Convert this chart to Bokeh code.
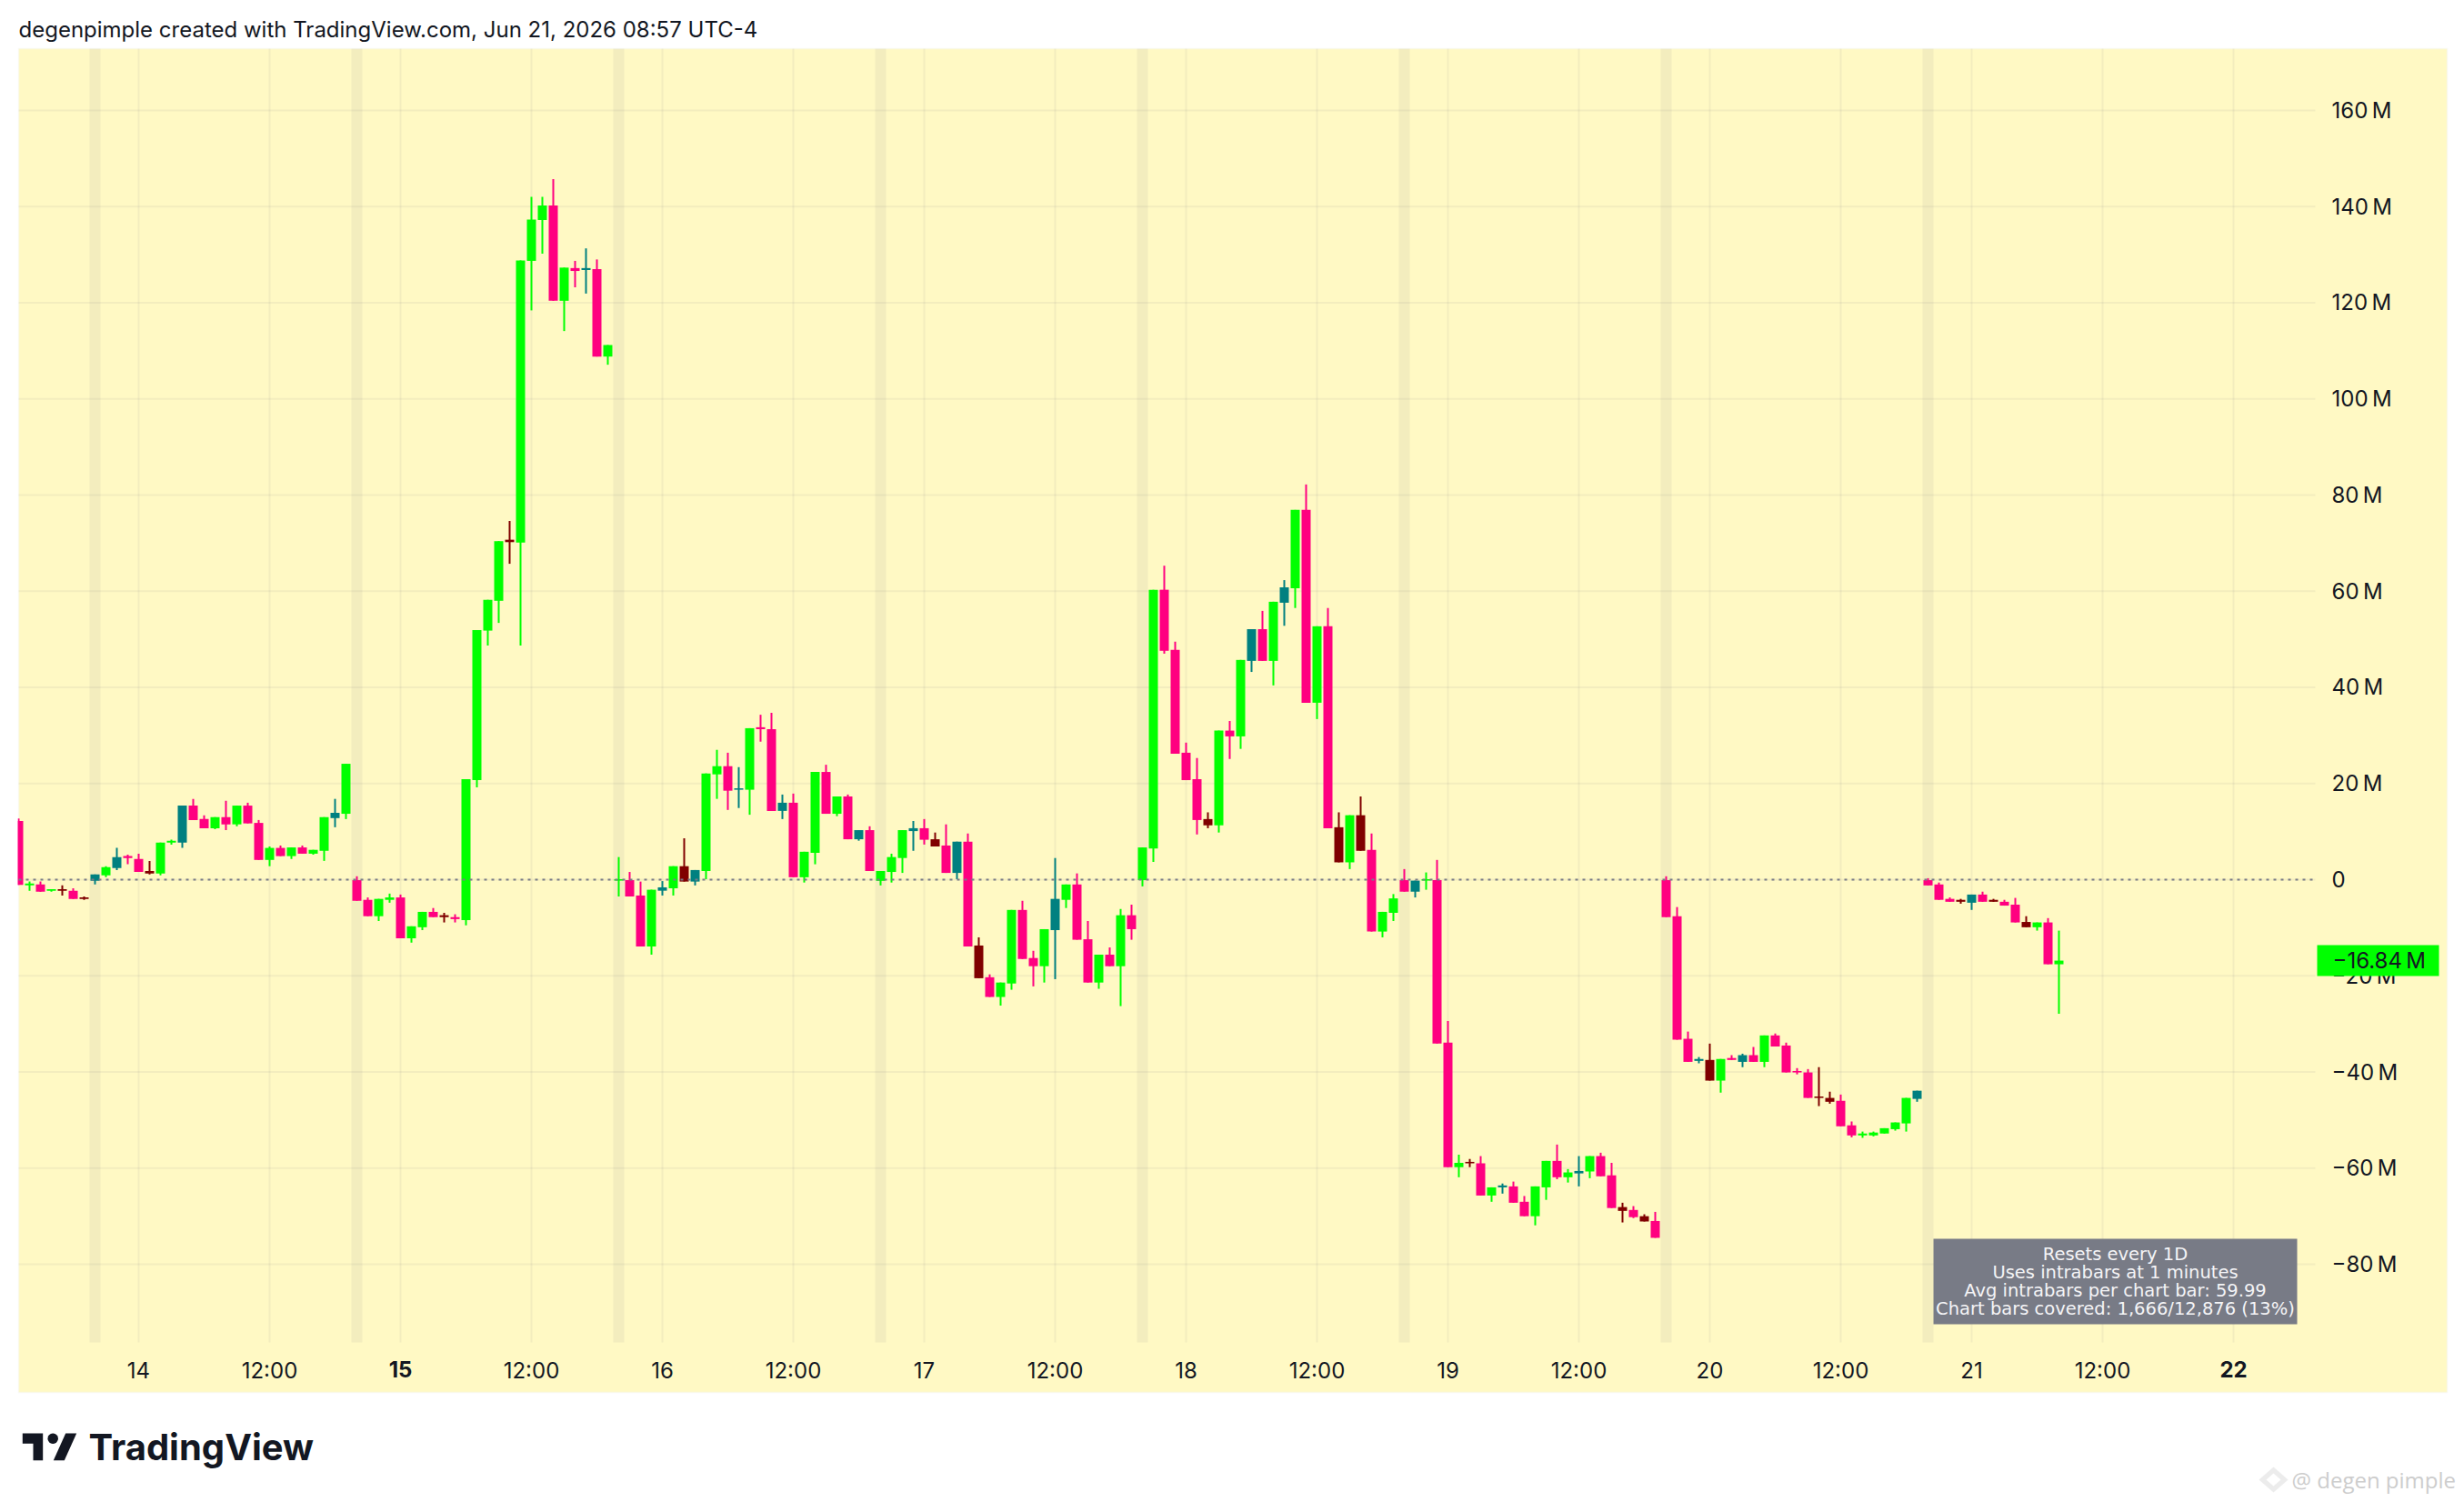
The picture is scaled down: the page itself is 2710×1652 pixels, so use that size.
from bokeh.plotting import figure
from bokeh.embed import file_html
from bokeh.resources import INLINE
from bokeh.models import (LinearAxis, FixedTicker, Range1d, Label, BoxAnnotation,
                          PolyAnnotation)
import math

FIRST_HOUR = -11
body_top = [
 12.2,-0.8,-1.0,-2.0,-2.0,-2.3,-3.7,1.1,2.6,4.7,4.9,4.3,
 1.8,7.7,8.1,15.4,15.4,12.6,13.0,13.0,15.4,15.4,11.8,6.6,
 6.6,6.7,6.7,6.2,13.0,13.9,24.1,-0.1,-4.2,-4.0,-3.7,-3.7,
 -9.7,-6.7,-6.7,-7.4,-7.8,20.9,51.9,58.2,70.4,70.7,128.8,137.3,
 140.2,140.2,127.3,127.2,127.2,127.0,111.2,0.1,-0.1,-3.3,-2.1,-1.6,
 2.8,2.8,2.0,22.1,23.6,23.6,19.0,31.5,31.7,31.3,16.0,16.0,
 5.8,22.4,22.4,17.3,17.3,10.3,10.3,1.8,4.7,10.3,10.7,10.7,
 8.4,7.1,7.9,7.9,-13.7,-20.3,-21.4,-6.3,-6.3,-16.3,-10.3,-4.0,
 -1.0,-1.0,-12.4,-15.6,-15.6,-7.4,-7.4,6.7,60.3,60.3,47.8,26.4,
 20.9,12.6,31.0,31.0,45.7,52.1,52.1,57.8,60.8,76.9,76.9,52.7,
 52.7,10.9,13.4,13.4,6.2,-6.7,-3.9,-0.1,-0.2,0.1,-0.1,-33.9,
 -58.9,-58.7,-59.0,-64.0,-63.6,-63.8,-67.0,-63.8,-58.5,-58.5,-60.9,-60.6,
 -57.5,-57.5,-61.5,-68.1,-68.7,-70.0,-71.0,-0.1,-7.6,-33.1,-37.3,-37.5,
 -37.3,-37.1,-36.5,-36.5,-32.4,-32.4,-34.5,-39.8,-40.1,-45.1,-45.4,-46.0,
 -51.1,-52.8,-52.6,-51.7,-50.5,-45.4,-43.9,-0.1,-1.0,-4.0,-4.2,-3.1,
 -3.1,-4.2,-4.6,-5.2,-8.8,-8.9,-8.9,-16.84]
body_bottom = [
 -1.1,-1.2,-2.5,-2.3,-2.3,-4.0,-4.0,-0.25,0.9,2.4,4.5,1.6,
 1.3,1.3,7.7,7.7,12.4,10.7,10.7,11.5,11.5,11.7,4.1,4.1,
 4.9,4.9,5.4,5.4,6.0,12.8,13.7,-4.4,-7.6,-7.6,-4.2,-12.2,
 -12.2,-9.9,-7.8,-7.8,-8.2,-8.4,20.7,51.8,58.0,70.2,70.1,128.7,
 137.2,120.4,120.4,126.6,126.8,108.8,108.8,-0.2,-3.5,-13.9,-13.9,-2.3,
 -1.8,-0.4,-0.4,1.8,21.9,18.5,18.7,18.7,31.3,14.3,14.3,0.5,
 0.5,5.6,13.7,13.7,8.4,8.4,1.8,-0.25,1.6,4.5,10.1,8.3,
 6.9,1.4,1.4,-13.9,-20.5,-24.4,-24.4,-21.6,-16.5,-18.0,-18.0,-10.5,
 -4.2,-12.5,-21.4,-21.4,-18.0,-18.0,-10.3,-0.1,6.5,47.6,26.2,20.7,
 12.4,11.3,11.3,29.8,29.8,45.5,45.5,45.5,57.6,60.6,36.8,36.8,
 10.7,3.6,3.6,6.0,-10.8,-10.8,-6.9,-2.5,-2.5,-0.2,-34.1,-59.8,
 -59.8,-59.0,-65.7,-65.7,-64.0,-67.2,-70.0,-70.0,-64.0,-61.9,-61.9,-61.1,
 -60.7,-61.7,-68.3,-68.9,-70.2,-71.1,-74.5,-7.8,-33.3,-37.9,-37.7,-41.8,
 -41.8,-37.5,-37.9,-37.9,-37.9,-34.7,-40.1,-40.1,-45.4,-45.4,-46.2,-51.3,
 -53.2,-53.2,-53.2,-52.8,-51.9,-50.7,-45.6,-1.2,-4.2,-4.6,-4.6,-4.8,
 -4.6,-4.6,-5.4,-8.9,-9.9,-9.9,-17.6,-17.6]
wick_high = [
 12.7,-0.4,-0.4,-2.0,-1.2,-1.8,-3.5,1.1,2.8,6.6,5.2,5.4,
 3.9,7.7,8.3,15.4,16.8,13.4,13.0,16.4,15.4,16.0,12.4,6.9,
 7.1,6.7,7.1,6.2,13.0,16.8,24.1,0.7,-3.7,-4.0,-2.9,-3.1,
 -9.7,-6.7,-5.9,-6.9,-7.2,20.9,51.9,58.2,70.4,74.6,128.8,142.0,
 142.0,145.7,127.3,128.7,131.3,129.0,111.2,4.7,1.6,-0.4,-2.1,-0.3,
 2.8,8.6,2.0,22.1,27.0,26.4,23.4,31.5,34.3,34.7,17.7,17.9,
 5.8,22.4,23.9,17.3,17.7,10.3,11.1,1.8,5.4,10.3,12.2,12.6,
 9.8,11.5,7.9,9.6,-12.0,-19.7,-21.4,-6.3,-4.4,-14.8,-10.3,4.5,
 -1.0,1.3,-8.6,-15.6,-14.1,-6.1,-5.2,6.7,60.3,65.3,49.5,28.5,
 25.3,14.0,31.0,33.0,45.7,52.1,55.9,57.8,62.3,76.9,82.2,52.7,
 56.5,14.0,13.4,17.3,9.6,-6.7,-3.0,2.2,-0.2,1.5,4.1,-29.4,
 -57.2,-58.1,-57.5,-64.0,-63.2,-62.8,-65.8,-63.8,-58.5,-55.1,-60.2,-57.5,
 -57.5,-56.8,-58.9,-67.2,-67.9,-69.6,-69.1,0.7,-5.7,-31.6,-36.9,-34.1,
 -37.3,-36.5,-36.2,-34.8,-32.4,-32.0,-33.9,-39.2,-39.4,-39.0,-44.1,-44.7,
 -50.3,-52.4,-52.4,-51.7,-50.5,-45.4,-43.9,0.3,-0.6,-3.7,-4.0,-3.1,
 -2.5,-4.0,-4.2,-3.8,-7.6,-8.9,-8.0,-10.6]
wick_low = [
 -1.1,-2.3,-2.5,-2.5,-3.3,-4.0,-4.2,-1.0,0.5,2.0,3.2,1.6,
 1.1,0.9,7.3,6.6,12.4,10.7,10.5,10.3,11.1,11.7,4.1,2.8,
 4.9,4.3,5.4,5.2,3.9,10.9,12.6,-4.4,-7.6,-8.6,-4.8,-12.2,
 -13.1,-10.5,-7.8,-8.9,-8.9,-9.5,19.2,48.7,53.4,65.7,48.7,118.4,
 130.2,120.4,114.1,123.2,121.9,108.8,107.1,-3.5,-3.5,-13.9,-15.6,-3.3,
 -3.3,-0.4,-1.2,0.1,16.8,14.5,14.9,13.5,28.7,14.3,12.6,0.5,
 -0.6,3.2,13.7,13.2,8.4,8.1,1.8,-1.2,-0.6,1.4,6.0,7.3,
 6.9,1.4,0.1,-13.9,-20.5,-24.4,-26.2,-22.9,-16.5,-22.2,-21.4,-20.7,
 -5.9,-12.5,-21.4,-22.7,-18.0,-26.3,-12.5,-1.4,3.7,47.0,26.2,20.7,
 9.4,10.7,9.8,25.1,27.2,43.2,45.5,40.4,52.8,56.5,36.8,33.4,
 10.7,3.6,2.2,6.0,-10.8,-12.0,-8.6,-2.5,-3.7,-2.1,-34.1,-59.8,
 -61.9,-59.8,-65.7,-67.0,-65.3,-67.2,-70.0,-71.9,-66.6,-62.3,-63.0,-63.8,
 -62.1,-61.7,-68.3,-71.3,-70.4,-71.1,-74.5,-7.8,-33.3,-37.9,-38.2,-41.8,
 -44.3,-37.5,-39.0,-37.9,-39.0,-34.7,-40.1,-40.5,-45.4,-47.1,-46.6,-51.3,
 -53.6,-53.7,-53.4,-52.8,-52.2,-52.4,-46.2,-1.2,-4.2,-4.6,-5.0,-6.3,
 -4.6,-4.6,-5.4,-8.9,-9.9,-10.6,-17.6,-27.9]
bar_kind = ("PLPLMPMTLTPP" "MLLTPPLPLPPL" "PLPLLTLPPLLP" "LLPMPLLLLMLL"
            "LPLPTPLLPPLT" "LMTLLPTLPPTP" "LLPLPTPLLLTP" "MPTPMPLLPPLT"
            "LPPLPLPLLPPP" "PMLPLTPLTLPL" "PMLMPLLPTLPP" "LMPLTPPLLPLT"
            "LPPMPMPPPPTM" "LPTPLPPPPMMP" "PLLLLLTPPPMT" "PMPPMLPL")

session_hours = [-4, 20, 44, 68, 92, 116, 140, 164]
x_tick_hours = [0, 12, 36, 48, 60, 72, 84, 96, 108, 120, 132, 144, 156, 168, 180]
x_tick_labels = ["14", "12:00", "12:00", "16", "12:00", "17", "12:00", "18", "12:00",
                 "19", "12:00", "20", "12:00", "21", "12:00"]
bold_tick_hours = [24, 192]
bold_tick_labels = ["15", "22"]
y_ticks = [-80, -60, -40, -20, 0, 20, 40, 60, 80, 100, 120, 140, 160]
y_tick_labels = ["\u221280\u2009M", "\u221260\u2009M", "\u221240\u2009M", "\u221220\u2009M", "0",
                 "20\u2009M", "40\u2009M", "60\u2009M", "80\u2009M", "100\u2009M", "120\u2009M",
                 "140\u2009M", "160\u2009M"]
last_value_label = "\u221216.84\u2009M"
info_lines = ["Resets every 1D", "Uses intrabars at 1 minutes",
              "Avg intrabars per chart bar: 59.99",
              "Chart bars covered: 1,666/12,876 (13%)"]
header_text = "degenpimple created with TradingView.com, Jun 21, 2026 08:57 UTC-4"

KIND_COLORS = {"L": "#00ff00", "P": "#ff0080", "T": "#008080", "M": "#800000"}
YELLOW = "#fff9c4"
INK = "#131722"
GREY = "#787b86"
FONT = "Inter"
W, H = 2705, 1645

# the frame fills the page; pane edges in page pixels
def hx(px): return (px - 152) / 12
def vy(py): return (967 - py) / 5.288
PANE_L, PANE_R, PANE_T, PANE_B = 20, 2546, 53, 1476

hours = [FIRST_HOUR + i for i in range(len(body_top))]
colors = [KIND_COLORS[k] for k in bar_kind]
xr = Range1d(hx(0), hx(W))
yr = Range1d(vy(H), vy(0))

p = figure(width=W, height=H, x_range=xr, y_range=yr, output_backend="svg",
           toolbar_location=None, min_border=0, background_fill_color="white",
           border_fill_color="white", outline_line_color=None,
           x_axis_type=None, y_axis_type=None)
p.grid.visible = False

def box(l, r, t, b, color, level, line=None, lw=1):
    p.add_layout(BoxAnnotation(left=l, right=r, top=t, bottom=b,
                               left_units="canvas", right_units="canvas",
                               top_units="canvas", bottom_units="canvas",
                               fill_color=color, fill_alpha=1, line_color=line,
                               line_width=lw, level=level))

box(20, 2691, 53, 1531, YELLOW, "image", "#f0f3fa", 2)

xax = LinearAxis(ticker=FixedTicker(ticks=x_tick_hours),
                 major_label_overrides=dict(zip(x_tick_hours, x_tick_labels)),
                 fixed_location=vy(PANE_B))
yax = LinearAxis(ticker=FixedTicker(ticks=y_ticks),
                 major_label_overrides=dict(zip(y_ticks, y_tick_labels)),
                 fixed_location=hx(PANE_R))
for ax in (xax, yax):
    ax.axis_line_color = None
    ax.major_tick_line_color = None
    ax.minor_tick_line_color = None
    ax.major_label_text_font = FONT
    ax.major_label_text_font_size = "24px"
    ax.major_label_text_color = INK
xax.major_label_standoff = 10
yax.major_label_standoff = 12
p.add_layout(xax, "below")
p.add_layout(yax, "right")

# grid lines stop at the pane edges
grid_x = sorted(x_tick_hours + bold_tick_hours)
p.segment(x0=grid_x, x1=grid_x, y0=vy(PANE_B), y1=vy(PANE_T), line_color=GREY,
          line_alpha=0.09, line_width=2, level="underlay")
p.segment(x0=hx(PANE_L), x1=hx(PANE_R), y0=y_ticks, y1=y_ticks, line_color=GREY,
          line_alpha=0.09, line_width=2, level="underlay")

for h, t in zip(bold_tick_hours, bold_tick_labels):
    p.add_layout(Label(x=h, y=1505, y_units="canvas", text=t, text_align="center",
                       text_baseline="middle", text_font=FONT, text_font_style="bold",
                       text_font_size="24px", text_color=INK))

p.vbar(x=session_hours, width=1, bottom=vy(PANE_B), top=vy(PANE_T), fill_color=GREY,
       fill_alpha=0.09, line_color=None, level="underlay")

p.segment(x0=hours, y0=wick_low, x1=hours, y1=wick_high, line_color=colors, line_width=2)
p.vbar(x=hours, width=10 / 12, bottom=body_bottom, top=body_top, fill_color=colors,
       line_color=None)
# the half bar at the pane's left edge must not spill over the margin
box(0, 19, 53, 1531, "white", "glyph")

p.segment(x0=[hx(PANE_L)], x1=[hx(PANE_R)], y0=[0], y1=[0], line_color=GREY, line_width=2,
          line_dash="3 5")

# last value tag
box(2548, 2682, 1039, 1073, "#00ff00", "annotation")
p.add_layout(Label(x=2565, y=1056, x_units="canvas", y_units="canvas",
                   text=last_value_label, text_font=FONT, text_font_size="24px",
                   text_color=INK, text_baseline="middle", level="annotation"))

# info box
box(2126, 2526, 1362, 1456, GREY, "annotation")
for i, line in enumerate(info_lines):
    p.add_layout(Label(x=2326, y=1379 + 20 * i, x_units="canvas", y_units="canvas",
                       text=line, text_align="center", text_baseline="middle",
                       text_font="DejaVu Sans", text_font_size="19.5px", text_color="#f4f4f6",
                       level="annotation"))

# header
p.add_layout(Label(x=20, y=32, x_units="canvas", y_units="canvas", text=header_text,
                   text_font=FONT, text_font_size="24px", text_color=INK,
                   text_baseline="middle"))

# TradingView logo
def poly(pts, color):
    p.add_layout(PolyAnnotation(xs=[a for a, b in pts], ys=[b for a, b in pts],
                                xs_units="canvas", ys_units="canvas",
                                fill_color=color, fill_alpha=1, line_color=None))

LOGO = "#131722"
poly([(24.3, 1576), (46.7, 1576), (46.7, 1605.7), (36, 1605.7), (36, 1587.3), (24.3, 1587.3)], LOGO)
poly([(57.7 + 5.7 * math.cos(i * math.pi / 12), 1581.7 + 5.7 * math.sin(i * math.pi / 12))
      for i in range(24)], LOGO)
poly([(71.7, 1576), (83.7, 1576), (70.3, 1605.7), (58.3, 1605.7)], LOGO)
p.add_layout(Label(x=97, y=1591, x_units="canvas", y_units="canvas", text="TradingView",
                   text_font=FONT, text_font_style="bold", text_font_size="40px",
                   text_color=LOGO, text_baseline="middle"))

# watermark
poly([(2500, 1613), (2516, 1627), (2500, 1641), (2484, 1627)], "#ececec")
poly([(2500, 1620), (2508, 1627), (2500, 1634), (2492, 1627)], "#ffffff")
p.add_layout(Label(x=2520, y=1627, x_units="canvas", y_units="canvas",
                   text="@ degen pimple", text_font="Open Sans", text_font_size="24px",
                   text_color="#cdcdcd", text_baseline="middle"))

open("out.html", "w").write(file_html(p, INLINE))
